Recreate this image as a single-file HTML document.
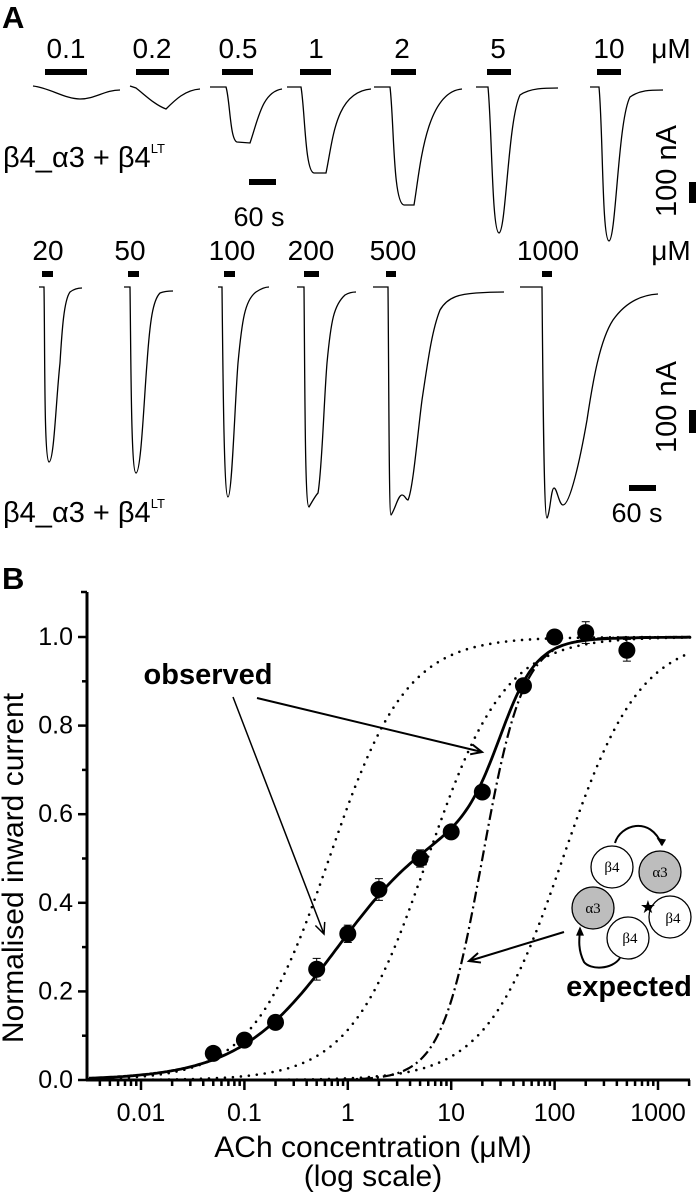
<!DOCTYPE html>
<html><head><meta charset="utf-8">
<style>
html,body{margin:0;padding:0;background:#fff;}
svg{display:block;font-family:"Liberation Sans",Arial,sans-serif;}
</style></head>
<body>
<svg id="fig" width="697" height="1199" viewBox="0 0 697 1199" xmlns="http://www.w3.org/2000/svg">
<rect width="697" height="1199" fill="#fff"/>
<!-- PANEL A -->
<g>
<text x="2" y="28" font-size="31" font-weight="bold">A</text>
<g font-size="28" text-anchor="middle">
<text x="66" y="58">0.1</text><text x="152" y="58">0.2</text><text x="238" y="58">0.5</text>
<text x="316" y="58">1</text><text x="402" y="58">2</text><text x="498" y="58">5</text>
<text x="609" y="58">10</text><text x="671" y="58">μM</text>
</g>
<g fill="#000">
<rect x="45" y="69" width="42" height="6"/><rect x="136" y="69" width="33" height="6"/>
<rect x="222" y="69" width="31" height="6"/><rect x="300" y="69" width="31" height="6"/>
<rect x="391" y="69" width="25" height="6"/><rect x="487" y="69" width="24" height="6"/>
<rect x="597" y="69" width="24" height="6"/>
</g>
<g fill="none" stroke="#000" stroke-width="1.3">
<path d="M33,86 C50,88 65,99 80,99 C95,99 105,90 120,90"/>
<path d="M130,86 L136,88 C145,95 155,105 166,109 C175,100 185,90 200,89"/>
<path d="M210,87 L226,87 C230,100 230,140 237,142 L250,143 C258,120 262,92 282,89"/>
<path d="M287,87 L301,87 C305,110 305,172 314,173 L326,173 C333,140 335,92 371,89"/>
<path d="M374,87 L390,87 C394,120 393,204 404,205 L414,205 C420,170 425,92 462,89"/>
<path d="M476,87 L488,87 C492,130 492,232 499,233 C506,232 508,120 520,95 C530,88 545,88 558,88"/>
<path d="M590,87 L599,87 C603,130 602,240 609,241 C616,240 618,120 630,97 C640,90 650,90 663,90"/>
</g>
<text x="3" y="167" font-size="29">β4_α3 + β4<tspan font-size="13" dy="-14">LT</tspan></text>
<rect x="249" y="179" width="27" height="6" fill="#000"/>
<text x="259" y="226" font-size="27" text-anchor="middle">60 s</text>
<text transform="translate(676,171) rotate(-90)" font-size="29" text-anchor="middle">100 nA</text>
<rect x="689" y="182" width="7" height="21" fill="#000"/>

<g font-size="28" text-anchor="middle">
<text x="48" y="260">20</text><text x="130" y="260">50</text><text x="232" y="260">100</text>
<text x="311" y="260">200</text><text x="393" y="260">500</text><text x="548" y="260">1000</text>
<text x="671" y="260">μM</text>
</g>
<g fill="#000">
<rect x="42" y="271" width="11" height="6"/><rect x="128" y="271" width="11" height="6"/>
<rect x="224" y="271" width="11" height="6"/><rect x="304" y="271" width="15" height="6"/>
<rect x="386" y="271" width="10" height="6"/><rect x="542" y="271" width="10" height="6"/>
</g>
<g fill="none" stroke="#000" stroke-width="1.3">
<path d="M39,287 L44,287 C45,350 44,460 49,462 C54,462 56,400 60,363 C62,330 64,300 70,292 C74,289 78,288 82,288"/>
<path d="M124,287 L130,287 C131,360 131,473 136,473 C141,473 144,400 147,363 C150,320 153,300 160,293 C165,291 169,291 173,291"/>
<path d="M218,287 L222,287 C223,380 224,497 228,497 C232,497 235,400 238,363 C242,320 245,300 256,292 C262,288 266,287 269,287"/>
<path d="M297,287 L304,287 C305,400 305,507 309,507 C313,500 316,495 318,493 C322,470 324,400 327,363 C331,320 334,305 345,295 C350,292 354,292 356,292"/>
<path d="M373,287 L388,287 C389,400 389,515 391,515 C395,510 398,495 402,495 C405,495 406,500 408,500 C413,490 418,430 422,400 C428,360 432,330 440,310 C448,296 462,294 476,293 C490,292 498,292 504,292"/>
<path d="M520,287 L542,287 C543,400 544,518 547,518 C550,515 551,488 554,488 C557,488 559,505 563,505 C570,505 580,460 587,420 C593,380 600,340 613,320 C625,303 640,295 658,294"/>
</g>
<text transform="translate(676,407) rotate(-90)" font-size="29" text-anchor="middle">100 nA</text>
<rect x="689" y="410" width="7" height="23" fill="#000"/>
<rect x="629" y="485" width="27" height="6" fill="#000"/>
<text x="637" y="522" font-size="27" text-anchor="middle">60 s</text>
<text x="3" y="522" font-size="29">β4_α3 + β4<tspan font-size="13" dy="-14">LT</tspan></text>
</g>

<!-- PANEL B -->
<g id="panelB">
<text x="2" y="589" font-size="31" font-weight="bold">B</text>
<text transform="translate(23,868) rotate(-90)" font-size="30" text-anchor="middle">Normalised inward current</text>
<text x="373" y="1157" font-size="30" text-anchor="middle">ACh concentration (μM)</text>
<text x="373" y="1186" font-size="30" text-anchor="middle">(log scale)</text>
<text x="208" y="684" font-size="29" font-weight="bold" text-anchor="middle">observed</text>
<text x="629" y="996" font-size="29" font-weight="bold" text-anchor="middle">expected</text>
<g stroke="#000" stroke-width="1.3" font-family="Liberation Serif,serif" font-size="15" text-anchor="middle">
<circle cx="612" cy="867" r="21" fill="#fff"/><circle cx="660" cy="872" r="21" fill="#bdbdbd"/>
<circle cx="670" cy="917" r="21" fill="#fff"/><circle cx="628" cy="938" r="21" fill="#fff"/>
<circle cx="593" cy="908" r="21" fill="#bdbdbd"/>
<g stroke="none" fill="#000">
<text x="612" y="872">β4</text><text x="660" y="877">α3</text><text x="673" y="923">β4</text>
<text x="630" y="943">β4</text><text x="593" y="913">α3</text>
<text x="648" y="913" font-size="18" font-family="DejaVu Sans,sans-serif">★</text>
</g>
<path d="M615,843 C620,825 650,815 662,845" fill="none" stroke-width="2"/>
<path d="M662,845 l-4,-6 l7,1 z" fill="#000"/>
<path d="M620,958 C612,970 590,970 584,962 C578,950 579,940 580,930" fill="none" stroke-width="2"/>
<path d="M580,928 l-3,7 l6,0 z" fill="#000"/>
</g>
</g>

<script>
// ---- Panel B chart data ----
const concentrations = [0.05, 0.1, 0.2, 0.5, 1, 2, 5, 10, 20, 50, 100, 200, 500];
const responses = [0.06, 0.09, 0.13, 0.25, 0.33, 0.43, 0.50, 0.56, 0.65, 0.89, 1.00, 1.01, 0.97];
const errors = [0.01, 0.01, 0.01, 0.02, 0.015, 0.02, 0.015, 0.01, 0.01, 0.01, 0.01, 0.02, 0.02];
const yTicks = [0, 0.2, 0.4, 0.6, 0.8, 1.0];
const yTickLabels = ["0.0", "0.2", "0.4", "0.6", "0.8", "1.0"];
const xTicks = [0.01, 0.1, 1, 10, 100, 1000];
const xTickLabels = ["0.01", "0.1", "1", "10", "100", "1000"];
// biphasic fit: fraction, EC50 high, nH high, EC50 low, nH low
const fitParams = [0.6, 0.8, 0.9, 30, 2.5];
// expected monophasic curves: EC50 and Hill slopes
const dottedEC50 = [0.66, 5.9, 120];
const dottedHill = [1.16, 1.16, 1.16];
const dashDotEC50 = [20];
const dashDotHill = [2.2];

const NS = "http://www.w3.org/2000/svg";
const g = document.getElementById('panelB');
const X0 = 141, DEC = 103.4, Y0 = 1080, YS = 443;
const AX_L = 87, AX_R = 690, AX_T = 592;
function sx(c){ return X0 + (Math.log10(c) + 2) * DEC; }
function sy(v){ return Y0 - v * YS; }
function mk(tag, attrs){ const e = document.createElementNS(NS, tag); for (const k in attrs) e.setAttribute(k, attrs[k]); g.appendChild(e); return e; }
function hill(c, ec, n){ return 1 / (1 + Math.pow(ec / c, n)); }
function sxInv(px){ return Math.pow(10, (px - X0) / DEC - 2); }
function curvePath(fn){
  let d = ""; const lo = Math.log10(sxInv(AX_L + 2)), hi = Math.log10(sxInv(AX_R));
  for (let i = 0; i <= 300; i++){ const c = Math.pow(10, lo + (hi - lo) * i / 300); const y = Math.min(sy(fn(c)), Y0);
    d += (i ? "L" : "M") + sx(c).toFixed(1) + "," + y.toFixed(1); }
  return d;
}

let el;
el = mk('line', {x1: AX_L, y1: AX_T, x2: AX_L, y2: Y0 + 1, stroke: '#000', 'stroke-width': 3});


el = mk('line', {x1: AX_L - 1, y1: Y0, x2: AX_R, y2: Y0, stroke: '#000', 'stroke-width': 3});


mk('line', {x1: AX_L - 6, y1: AX_T, x2: AX_L, y2: AX_T, stroke: '#000', 'stroke-width': 2.5});
yTicks.forEach((v, i) => {
  el = mk('line', {x1: AX_L - 9, y1: sy(v), x2: AX_L, y2: sy(v), stroke: '#000', 'stroke-width': 2.5});
  
  
  if (i < yTicks.length - 1){
    const m = (v + yTicks[i + 1]) / 2;
    mk('line', {x1: AX_L - 5, y1: sy(m), x2: AX_L, y2: sy(m), stroke: '#000', 'stroke-width': 2.5});
  }
  el = mk('text', {x: 73, y: sy(v) + 8, 'font-size': 25, 'text-anchor': 'end'});
  el.textContent = yTickLabels[i];
  
  
});
for (let e = -3; e <= 3; e++){
  for (let k = 1; k <= 9; k++){
    const c = k * Math.pow(10, e); const x = sx(c);
    if (x < AX_L + 3 || x > AX_R) continue;
    mk('line', {x1: x, y1: Y0, x2: x, y2: Y0 + (k === 1 ? 10 : 6), stroke: '#000', 'stroke-width': 2.5});
  }
}
xTicks.forEach((c, i) => {
  el = mk('text', {x: sx(c), y: 1121, 'font-size': 25, 'text-anchor': 'middle'});
  el.textContent = xTickLabels[i];
  
  
});

dottedEC50.forEach((ec, i) => {
  el = mk('path', {d: curvePath(c => hill(c, ec, dottedHill[i])), fill: 'none', stroke: '#000', 'stroke-width': 2.6, 'stroke-dasharray': '0 8', 'stroke-linecap': 'round'});
  
  
});
dashDotEC50.forEach((ec, i) => {
  el = mk('path', {d: curvePath(c => hill(c, ec, dashDotHill[i])), fill: 'none', stroke: '#000', 'stroke-width': 2.2, 'stroke-dasharray': '11 4 2 4'});
  
  
});
const [fA, ec1, n1, ec2, n2] = fitParams;
el = mk('path', {d: curvePath(c => fA * hill(c, ec1, n1) + (1 - fA) * hill(c, ec2, n2)), fill: 'none', stroke: '#000', 'stroke-width': 2.8});



concentrations.forEach((c, i) => {
  const x = sx(c), y = sy(responses[i]), e = errors[i] * YS;
  mk('line', {x1: x, y1: y - e - 2, x2: x, y2: y + e + 2, stroke: '#000', 'stroke-width': 1});
  mk('line', {x1: x - 4, y1: y - e - 2, x2: x + 4, y2: y - e - 2, stroke: '#000', 'stroke-width': 1});
  mk('line', {x1: x - 4, y1: y + e + 2, x2: x + 4, y2: y + e + 2, stroke: '#000', 'stroke-width': 1});
  el = mk('circle', {cx: x, cy: y, r: 8.5, fill: '#000'});
  
  
});

function arrow(x1, y1, x2, y2, w){
  const a = Math.atan2(y2 - y1, x2 - x1), L = 11, W = 5;
  return mk('path', {d: `M${x1},${y1} L${x2},${y2} M${x2 - L*Math.cos(a) + W*Math.sin(a)},${y2 - L*Math.sin(a) - W*Math.cos(a)} L${x2},${y2} L${x2 - L*Math.cos(a) - W*Math.sin(a)},${y2 - L*Math.sin(a) + W*Math.cos(a)}`, fill: 'none', stroke: '#000', 'stroke-width': w});
}
el = arrow(233, 697, 324, 934, 1.5);


el = arrow(257, 698, 482, 752, 2);


el = arrow(564, 932, 469, 961, 2);


</script>
</svg>
</body></html>
